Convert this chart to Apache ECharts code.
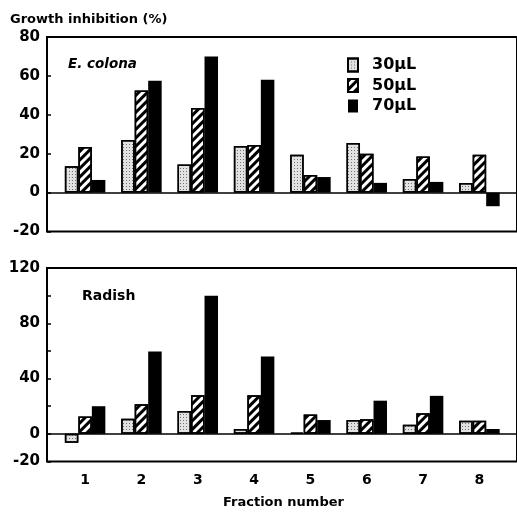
<!DOCTYPE html>
<html>
<head>
<meta charset="utf-8">
<script src="https://cdn.jsdelivr.net/npm/echarts@6/dist/echarts.min.js"></script>
<style>
  html, body { margin: 0; padding: 0; background: #fff; }
  #main { width: 517px; height: 512px; }
</style>
</head>
<body>
<div id="main"></div>
<script>
// fraction numbers on the x axis
var fractions = [1, 2, 3, 4, 5, 6, 7, 8]
var doseNames = ['30µL', '50µL', '70µL']

// E. colona panel (growth inhibition %)
var ecolona30 = [13.5, 27, 14.5, 24, 19.5, 25.5, 7, 5]
var ecolona50 = [23.5, 52.5, 43.5, 24.5, 9, 20, 18.5, 19.5]
var ecolona70 = [6.5, 57.5, 70, 58, 8, 5, 5.5, -7]

// Radish panel
var radish30 = [-6.5, 11, 16.5, 3.5, 1, 10, 6.5, 9.5]
var radish50 = [12.5, 21.5, 28, 28, 14, 10.5, 15, 9.5]
var radish70 = [20, 59.5, 100, 56, 10, 24, 27.5, 3.5]

// labels shown on the radish y axis
var radishYLabels = [-20, 0, 40, 80, 120]

var chart = echarts.init(document.getElementById('main'))
var FONT = 'DejaVu Sans'

function pairs(arr) {
  return fractions.map(function (f, i) { return [f, arr[i]] })
}

var styles = [
  { // 30 - stippled
    color: '#e2e2e2', borderColor: '#000', borderWidth: 1.5,
    decal: { symbol: 'rect', symbolSize: 1, dashArrayX: [1, 2], dashArrayY: [1, 2], color: '#707070' }
  },
  { // 50 - hatched
    color: '#fff', borderColor: '#000', borderWidth: 1.5,
    decal: { symbol: 'rect', symbolSize: 1, dashArrayX: [1, 0], dashArrayY: [2.5, 3], rotation: -Math.PI / 4, color: '#000' }
  },
  { color: '#000', borderColor: '#000', borderWidth: 0 }
]

function makeSeries(idx, data, gridIdx, zeroLine) {
  var s = {
    type: 'bar',
    name: doseNames[idx],
    xAxisIndex: gridIdx,
    yAxisIndex: gridIdx,
    data: pairs(data),
    barWidth: 13.5,
    barGap: '0%',
    itemStyle: styles[idx],
    emphasis: { disabled: true },
    animation: false
  }
  if (zeroLine) {
    s.markLine = {
      silent: true,
      symbol: ['none', 'none'],
      label: { show: false },
      lineStyle: { color: '#000', width: 1.5, type: 'solid' },
      data: [{ yAxis: 0 }]
    }
  }
  return s
}

function xAxisFor(gridIdx, showLabels) {
  return {
    type: 'value',
    gridIndex: gridIdx,
    min: 0.3237,
    max: 8.667,
    splitNumber: 8,
    axisLine: { show: false },
    axisTick: { show: false },
    splitLine: { show: false },
    axisLabel: {
      show: showLabels,
      margin: 12,
      color: '#000',
      fontFamily: FONT,
      fontWeight: 'bold',
      fontSize: 14,
      showMinLabel: false,
      showMaxLabel: false,
      formatter: function (v) {
        return (Math.abs(v - Math.round(v)) < 1e-6 && v >= 1 && v <= 8) ? String(Math.round(v)) : ''
      }
    }
  }
}

var yCommon = {
  type: 'value',
  interval: 20,
  axisLine: { show: false },
  axisTick: { show: true, inside: true, length: 4, lineStyle: { color: '#000', width: 1.5 } },
  splitLine: { show: false }
}

var option = {
  backgroundColor: '#fff',
  animation: false,
  grid: [
    { left: 47, top: 37, width: 475, height: 194.5, show: true, borderColor: '#000', borderWidth: 2, backgroundColor: 'transparent' },
    { left: 47, top: 268, width: 475, height: 193.5, show: true, borderColor: '#000', borderWidth: 2, backgroundColor: 'transparent' }
  ],
  xAxis: [xAxisFor(0, false), xAxisFor(1, true)],
  yAxis: [
    Object.assign({}, yCommon, {
      gridIndex: 0, min: -20, max: 80,
      axisLabel: { margin: 7, color: '#000', fontFamily: FONT, fontWeight: 'bold', fontSize: 15 }
    }),
    Object.assign({}, yCommon, {
      gridIndex: 1, min: -20, max: 120,
      axisLabel: {
        margin: 7, color: '#000', fontFamily: FONT, fontWeight: 'bold', fontSize: 15,
        formatter: function (v) { return radishYLabels.indexOf(v) >= 0 ? String(v) : '' }
      }
    })
  ],
  legend: {
    orient: 'vertical',
    left: 347,
    top: 57,
    padding: 0,
    itemWidth: 10,
    itemHeight: 13,
    itemGap: 4.5,
    icon: 'rect',
    selectedMode: false,
    data: doseNames,
    textStyle: { color: '#000', fontFamily: FONT, fontWeight: 'bold', fontSize: 16, lineHeight: 13, padding: [0, 0, 0, 9] }
  },
  graphic: [
    { type: 'text', left: 10, top: 13, style: { text: 'Growth inhibition (%)', fill: '#000', font: 'bold 13px "DejaVu Sans"' } },
    { type: 'text', left: 68, top: 57, style: { text: 'E. colona', fill: '#000', font: 'italic bold 13.5px "DejaVu Sans"' } },
    { type: 'text', left: 82, top: 289, style: { text: 'Radish', fill: '#000', font: 'bold 14px "DejaVu Sans"' } },
    { type: 'text', left: 223, top: 496, style: { text: 'Fraction number', fill: '#000', font: 'bold 13px "DejaVu Sans"' } }
  ],
  series: [
    makeSeries(0, ecolona30, 0, true),
    makeSeries(1, ecolona50, 0, false),
    makeSeries(2, ecolona70, 0, false),
    makeSeries(0, radish30, 1, true),
    makeSeries(1, radish50, 1, false),
    makeSeries(2, radish70, 1, false)
  ]
}

chart.setOption(option)
</script>
</body>
</html>
